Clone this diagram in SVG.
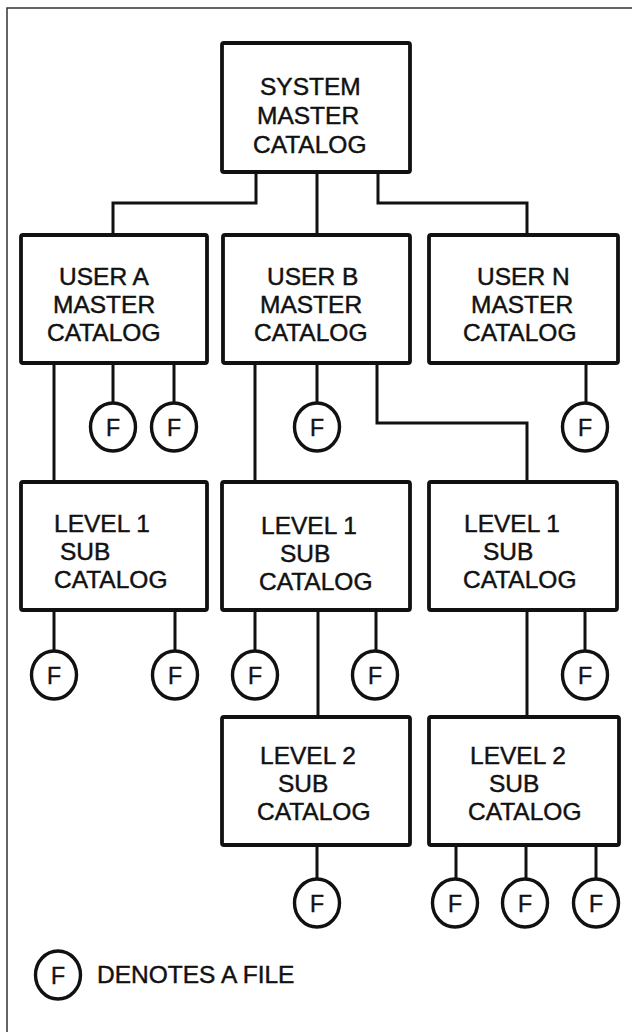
<svg xmlns="http://www.w3.org/2000/svg" width="632" height="1032" viewBox="0 0 632 1032">
<style>
.box{fill:#fff;stroke:#111;stroke-width:3.8}
.ln{fill:none;stroke:#111;stroke-width:3}
.fc{fill:#fff;stroke:#111;stroke-width:3.4}
.frame{fill:none;stroke:#333;stroke-width:1.5}
text{font-family:"Liberation Sans",Arial,sans-serif;font-size:24.5px;fill:#111;stroke:#111;stroke-width:0.45}
.f{text-anchor:middle;font-size:23px}
</style>
<rect width="632" height="1032" fill="#fff"/>
<path class="frame" d="M7,1032 V8 H632"/>
<g id="connectors">
<path class="ln" d="M256,172 V203 H113 V235"/>
<path class="ln" d="M317,172 V235"/>
<path class="ln" d="M378,172 V203 H527 V235"/>
<path class="ln" d="M54,363 V482"/>
<path class="ln" d="M113,363 V403"/>
<path class="ln" d="M174,363 V403"/>
<path class="ln" d="M255,363 V482"/>
<path class="ln" d="M317,363 V403"/>
<path class="ln" d="M377,363 V423 H527 V482"/>
<path class="ln" d="M586,363 V403"/>
<path class="ln" d="M54,610 V651"/>
<path class="ln" d="M175,610 V651"/>
<path class="ln" d="M255,610 V651"/>
<path class="ln" d="M318,610 V717"/>
<path class="ln" d="M376,610 V651"/>
<path class="ln" d="M527,610 V717"/>
<path class="ln" d="M585,610 V651"/>
<path class="ln" d="M317,845 V879"/>
<path class="ln" d="M456,845 V879"/>
<path class="ln" d="M526,845 V879"/>
<path class="ln" d="M596,845 V879"/>
</g>
<g id="system">
<rect class="box" x="222" y="43" width="188" height="129" rx="2"/>
<text x="260" y="95">SYSTEM</text>
<text x="257" y="124">MASTER</text>
<text x="253" y="153">CATALOG</text>
</g>
<g id="userA">
<rect class="box" x="21" y="235" width="186" height="128" rx="2"/>
<text x="59" y="285">USER A</text>
<text x="53" y="313">MASTER</text>
<text x="47" y="341">CATALOG</text>
</g>
<g id="userB">
<rect class="box" x="223" y="235" width="187" height="128" rx="2"/>
<text x="267" y="285">USER B</text>
<text x="260" y="313">MASTER</text>
<text x="254" y="341">CATALOG</text>
</g>
<g id="userN">
<rect class="box" x="429" y="235" width="189" height="128" rx="2"/>
<text x="477" y="285">USER N</text>
<text x="471" y="313">MASTER</text>
<text x="463" y="341">CATALOG</text>
</g>
<g id="l1A">
<rect class="box" x="21" y="482" width="186" height="128" rx="2"/>
<text x="54" y="532">LEVEL 1</text>
<text x="60" y="560">SUB</text>
<text x="54" y="588">CATALOG</text>
</g>
<g id="l1B">
<rect class="box" x="222" y="482" width="188" height="128" rx="2"/>
<text x="261" y="534">LEVEL 1</text>
<text x="280" y="562">SUB</text>
<text x="259" y="590">CATALOG</text>
</g>
<g id="l1N">
<rect class="box" x="429" y="482" width="188" height="128" rx="2"/>
<text x="464" y="532">LEVEL 1</text>
<text x="483" y="560">SUB</text>
<text x="463" y="588">CATALOG</text>
</g>
<g id="l2B">
<rect class="box" x="222" y="717" width="188" height="128" rx="2"/>
<text x="260" y="764">LEVEL 2</text>
<text x="278" y="792">SUB</text>
<text x="257" y="820">CATALOG</text>
</g>
<g id="l2N">
<rect class="box" x="429" y="717" width="190" height="128" rx="2"/>
<text x="470" y="764">LEVEL 2</text>
<text x="489" y="792">SUB</text>
<text x="468" y="820">CATALOG</text>
</g>
<g id="f-a1"><ellipse class="fc" cx="113" cy="427" rx="22.5" ry="24"/><text class="f" x="113" y="436">F</text></g>
<g id="f-a2"><ellipse class="fc" cx="174" cy="427" rx="22.5" ry="24"/><text class="f" x="174" y="436">F</text></g>
<g id="f-b1"><ellipse class="fc" cx="317" cy="427" rx="22.5" ry="24"/><text class="f" x="317" y="436">F</text></g>
<g id="f-n1"><ellipse class="fc" cx="585" cy="427" rx="22.5" ry="24"/><text class="f" x="585" y="436">F</text></g>
<g id="f-la1"><ellipse class="fc" cx="54" cy="675" rx="22.5" ry="24"/><text class="f" x="54" y="684">F</text></g>
<g id="f-la2"><ellipse class="fc" cx="175" cy="675" rx="22.5" ry="24"/><text class="f" x="175" y="684">F</text></g>
<g id="f-lb1"><ellipse class="fc" cx="255" cy="675" rx="22.5" ry="24"/><text class="f" x="255" y="684">F</text></g>
<g id="f-lb2"><ellipse class="fc" cx="375" cy="675" rx="22.5" ry="24"/><text class="f" x="375" y="684">F</text></g>
<g id="f-ln1"><ellipse class="fc" cx="585" cy="675" rx="22.5" ry="24"/><text class="f" x="585" y="684">F</text></g>
<g id="f-2b1"><ellipse class="fc" cx="317" cy="903" rx="22.5" ry="24"/><text class="f" x="317" y="912">F</text></g>
<g id="f-2n1"><ellipse class="fc" cx="455" cy="903" rx="22.5" ry="24"/><text class="f" x="455" y="912">F</text></g>
<g id="f-2n2"><ellipse class="fc" cx="525" cy="903" rx="22.5" ry="24"/><text class="f" x="525" y="912">F</text></g>
<g id="f-2n3"><ellipse class="fc" cx="596" cy="903" rx="22.5" ry="24"/><text class="f" x="596" y="912">F</text></g>
<g id="legend">
<ellipse class="fc" cx="58" cy="975" rx="22.5" ry="24"/><text class="f" x="58" y="984">F</text>
<text x="97" y="983">DENOTES A FILE</text>
</g>
</svg>
